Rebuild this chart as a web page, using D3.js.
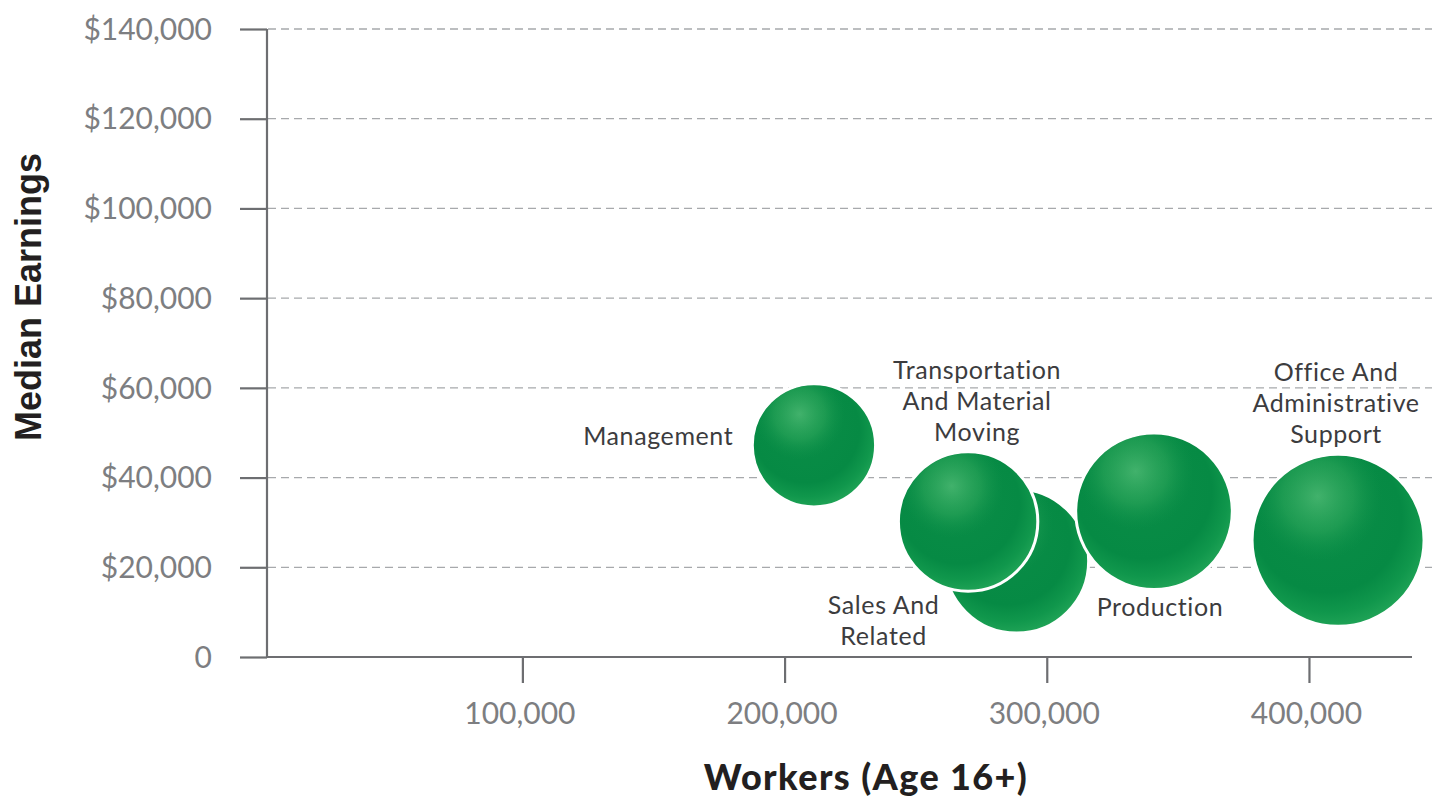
<!DOCTYPE html>
<html><head><meta charset="utf-8">
<script src="https://cdn.jsdelivr.net/npm/d3@7"></script>
<style>
html,body{margin:0;padding:0;background:#fff;}
svg{display:block;}
</style></head>
<body>
<svg id="chart" width="1446" height="798"></svg>
<script>
// ---- data ----
const occupations = ["Management", "Sales And Related", "Transportation And Material Moving", "Production", "Office And Administrative Support"];
const workers = [211200, 288500, 270000, 340900, 411100];
const medianEarnings = [47200, 21400, 30200, 32500, 26000];
const xTickValues = [100000, 200000, 300000, 400000];
const yTickValues = [0, 20000, 40000, 60000, 80000, 100000, 120000, 140000];
const xTitle = "Workers (Age 16+)";
const yTitle = "Median Earnings";
// label layout per bubble: side and lines
const labelLines = [["Management"], ["Sales And", "Related"], ["Transportation", "And Material", "Moving"], ["Production"], ["Office And", "Administrative", "Support"]];
const labelSide = ["left", "belowLeft", "above", "below", "above"];

const svg = d3.select("#chart");
const x = d3.scaleLinear().domain([2600, 439300]).range([267, 1412]);
const y = d3.scaleLinear().domain([0, 140000]).range([657, 29]);
const r = d3.scaleSqrt().domain([0, 411100]).range([0, 86]);

const axisColor = "#6d6e71";
const defs = svg.append("defs");
const base = defs.append("radialGradient").attr("id", "ballBase")
  .attr("cx", "45%").attr("cy", "40%").attr("r", "62%").attr("fx", "40%").attr("fy", "30%");
base.append("stop").attr("offset", "0%").attr("stop-color", "#0a8d47");
base.append("stop").attr("offset", "70%").attr("stop-color", "#068a44");
base.append("stop").attr("offset", "86%").attr("stop-color", "#10974c");
base.append("stop").attr("offset", "100%").attr("stop-color", "#22a558");
const hl = defs.append("radialGradient").attr("id", "ballHl")
  .attr("cx", "38%").attr("cy", "24%").attr("r", "38%");
hl.append("stop").attr("offset", "0%").attr("stop-color", "#6fd08a").attr("stop-opacity", 0.55);
hl.append("stop").attr("offset", "55%").attr("stop-color", "#4fbf6f").attr("stop-opacity", 0.3);
hl.append("stop").attr("offset", "100%").attr("stop-color", "#1a9c52").attr("stop-opacity", 0);

// gridlines
svg.append("g").selectAll("line").data(yTickValues.filter(d => d > 0)).join("line")
  .attr("x1", 268).attr("x2", 1432).attr("y1", d => y(d)).attr("y2", d => y(d))
  .attr("stroke", "#a7a9ac").attr("stroke-width", 1.3).attr("stroke-dasharray", "8,5");

// y axis
const yAxis = svg.append("g").attr("transform", "translate(267,0)")
  .call(d3.axisLeft(y).tickValues(yTickValues).tickSize(27).tickPadding(28)
    .tickFormat(d => d === 0 ? "0" : "$" + d3.format(",")(d)));
yAxis.select(".domain").attr("stroke", axisColor).attr("stroke-width", 2.2).attr("d", "M0,29V657");
yAxis.selectAll(".tick line").attr("stroke", axisColor).attr("stroke-width", 2.2);
yAxis.selectAll(".tick text").attr("fill", "#7d7e81").attr("font-family", "Lato").attr("font-weight", 400)
  .attr("font-size", 30).attr("dy", "0.34em");

// x axis
const xAxis = svg.append("g").attr("transform", "translate(0,657)")
  .call(d3.axisBottom(x).tickValues(xTickValues).tickSize(26).tickPadding(20).tickFormat(d3.format(",")));
xAxis.select(".domain").attr("stroke", axisColor).attr("stroke-width", 2.2).attr("d", "M267,0H1412");
xAxis.selectAll(".tick line").attr("stroke", axisColor).attr("stroke-width", 2.2);
xAxis.selectAll(".tick text").attr("fill", "#7d7e81").attr("font-family", "Lato").attr("font-weight", 400)
  .attr("font-size", 30).attr("dx", "-3");

// bubbles
const data = occupations.map((name, i) => ({name, w: workers[i], e: medianEarnings[i], lines: labelLines[i], side: labelSide[i]}));
const drawOrder = [0, 1, 2, 3, 4];
const bubbles = svg.append("g").selectAll("g").data(drawOrder.map(i => data[i])).join("g")
  .attr("transform", d => `translate(${x(d.w)},${y(d.e)})`);
bubbles.append("circle").attr("r", d => r(d.w))
  .attr("fill", "url(#ballBase)").attr("stroke", "#fff").attr("stroke-width", 3);
bubbles.append("circle").attr("r", d => r(d.w) - 1.5)
  .attr("fill", "url(#ballHl)");

// labels
const lineH = 31;
const labels = svg.append("g").attr("font-family", "Lato").attr("font-size", 25)
  .attr("letter-spacing", 0.6).attr("fill", "#3c3c3e");
data.forEach(d => {
  const cx = x(d.w), cy = y(d.e), rr = r(d.w);
  let tx, ty, anchor;
  if (d.side === "left") { tx = cx - rr - 19; ty = cy - 9; anchor = "end"; }
  else if (d.side === "above") { tx = cx + (d.name.startsWith("Transportation") ? 9 : -2); ty = cy - rr - 20 - (d.lines.length - 1) * lineH; anchor = "middle"; }
  else if (d.side === "below") { tx = cx + 6; ty = cy + rr + 18; anchor = "middle"; }
  else { tx = cx - 133; ty = cy + rr - 28; anchor = "middle"; }
  const t = labels.append("text").attr("text-anchor", anchor);
  d.lines.forEach((ln, k) => {
    t.append("tspan").attr("x", tx).attr("y", ty + k * lineH).attr("dy", "0.35em").text(ln);
  });
});

// axis titles
svg.append("text").attr("x", 866).attr("y", 777).attr("dy", "0.35em").attr("text-anchor", "middle")
  .attr("font-family", "Lato").attr("font-weight", 900).attr("font-size", 36).attr("letter-spacing", 1.4)
  .attr("fill", "#231f20").text(xTitle);
svg.append("text").attr("transform", "translate(28,297) rotate(-90)").attr("dy", "0.35em").attr("text-anchor", "middle")
  .attr("font-family", "Liberation Sans").attr("font-weight", 700).attr("font-size", 36).attr("fill", "#231f20").text(yTitle);
</script>
</body></html>
